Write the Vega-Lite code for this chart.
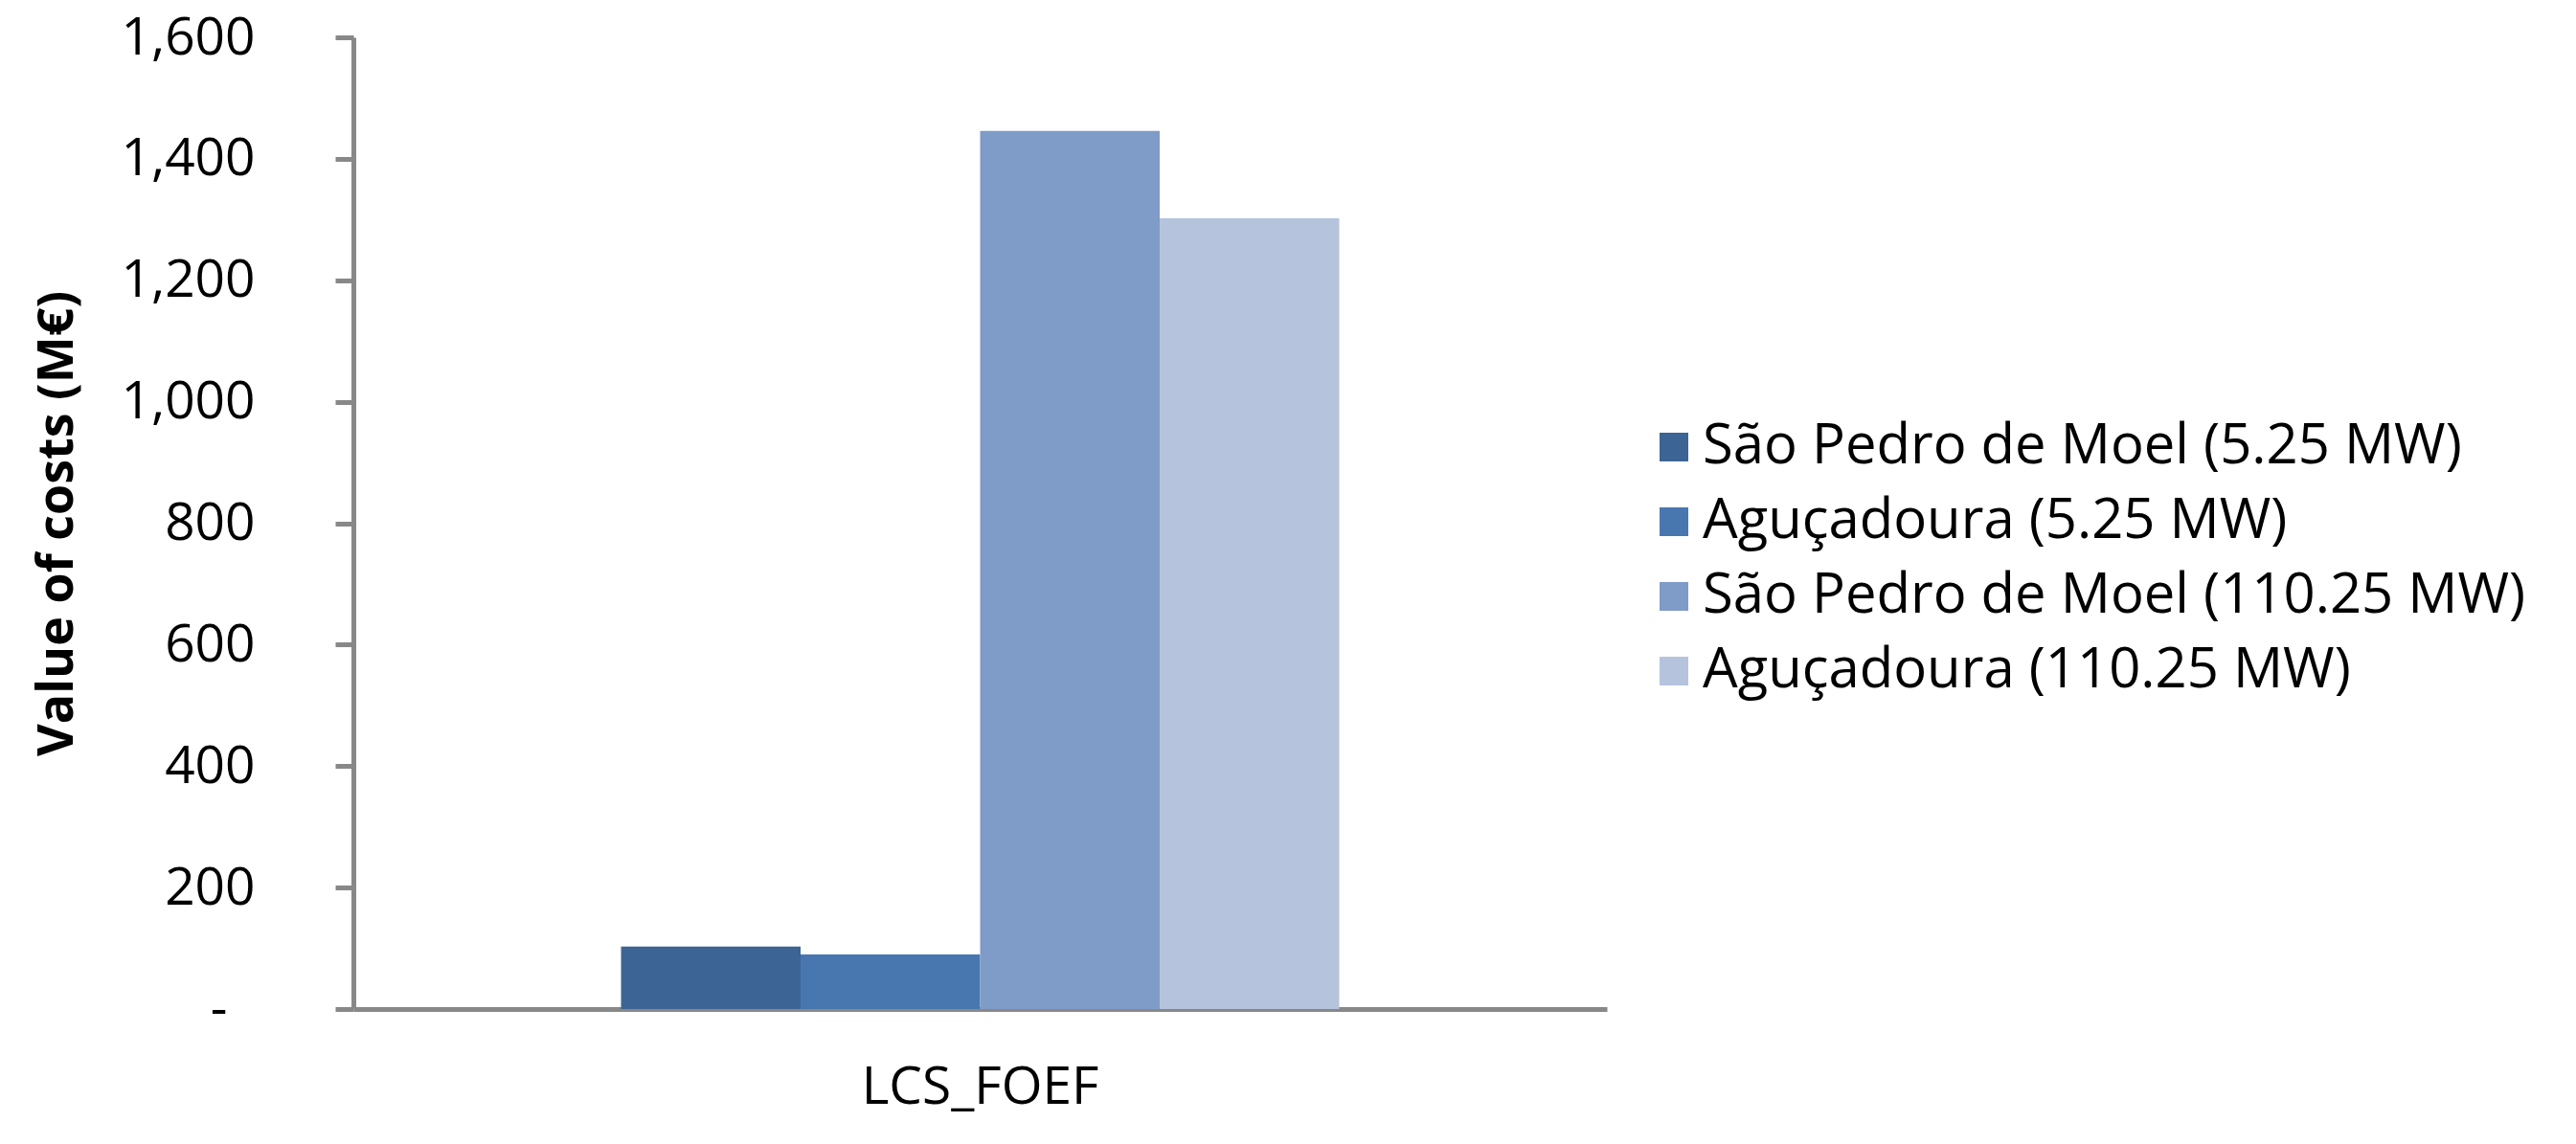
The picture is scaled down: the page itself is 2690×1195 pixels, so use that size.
{
  "$schema": "https://vega.github.io/schema/vega-lite/v6.json",
  "width": 1309,
  "height": 1015,
  "autosize": {"type": "none"},
  "padding": {"left": 369, "top": 39, "right": 1012, "bottom": 141},
  "background": "white",
  "data": {
    "values": [
      {"category": "LCS_FOEF", "series": "São Pedro de Moel (5.25 MW)", "value": 103},
      {"category": "LCS_FOEF", "series": "Aguçadoura (5.25 MW)", "value": 90},
      {"category": "LCS_FOEF", "series": "São Pedro de Moel (110.25 MW)", "value": 1446},
      {"category": "LCS_FOEF", "series": "Aguçadoura (110.25 MW)", "value": 1302}
    ]
  },
  "mark": {"type": "bar"},
  "encoding": {
    "x": {
      "field": "category",
      "type": "nominal",
      "scale": {"paddingInner": 0, "paddingOuter": 0.3727},
      "axis": {
        "title": null,
        "labelAngle": 0,
        "labelFont": "Open Sans",
        "labelFontSize": 55,
        "labelColor": "black",
        "labelPadding": 55,
        "labelLimit": 1000,
        "ticks": false,
        "domainColor": "#888888",
        "domainWidth": 5
      }
    },
    "xOffset": {
      "field": "series",
      "type": "nominal",
      "sort": ["São Pedro de Moel (5.25 MW)", "Aguçadoura (5.25 MW)", "São Pedro de Moel (110.25 MW)", "Aguçadoura (110.25 MW)"],
      "scale": {"paddingInner": 0, "paddingOuter": 0}
    },
    "y": {
      "field": "value",
      "type": "quantitative",
      "scale": {"domain": [0, 1600], "nice": false},
      "axis": {
        "title": "Value of costs (M€)",
        "titleFont": "Open Sans",
        "titleFontSize": 52,
        "titleFontWeight": "bold",
        "titleColor": "black",
        "titlePadding": 83,
        "values": [0, 200, 400, 600, 800, 1000, 1200, 1400, 1600],
        "grid": false,
        "labelExpr": "datum.value == 0 ? '-' : format(datum.value, ',')",
        "labelFont": "Open Sans",
        "labelFontSize": 55,
        "labelColor": "black",
        "labelPadding": {"condition": {"test": "datum.value == 0", "value": 113}, "value": 84},
        "tickSize": 19,
        "tickWidth": 5,
        "tickColor": "#888888",
        "domainColor": "#888888",
        "domainWidth": 5
      }
    },
    "color": {
      "field": "series",
      "type": "nominal",
      "sort": ["São Pedro de Moel (5.25 MW)", "Aguçadoura (5.25 MW)", "São Pedro de Moel (110.25 MW)", "Aguçadoura (110.25 MW)"],
      "scale": {
        "domain": ["São Pedro de Moel (5.25 MW)", "Aguçadoura (5.25 MW)", "São Pedro de Moel (110.25 MW)", "Aguçadoura (110.25 MW)"],
        "range": ["#3C6494", "#4877B0", "#7F9BC7", "#B5C3DD"]
      },
      "legend": {
        "title": null,
        "orient": "none",
        "legendX": 1350,
        "legendY": 399,
        "symbolType": "square",
        "symbolSize": 900,
        "symbolStrokeWidth": 0,
        "symbolOpacity": 1,
        "labelOffset": 1,
        "labelFont": "Open Sans",
        "labelFontSize": 58,
        "labelColor": "black",
        "labelLimit": 1200,
        "rowPadding": 20
      }
    }
  },
  "config": {"view": {"stroke": null}}
}
